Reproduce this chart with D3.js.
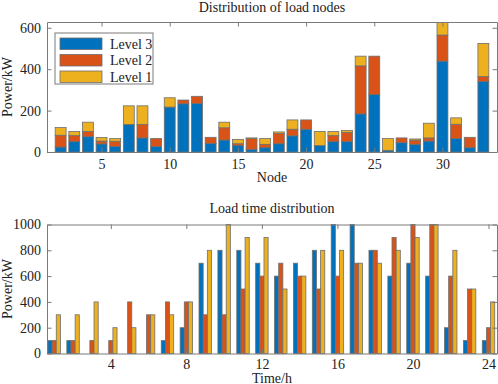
<!DOCTYPE html>
<html lang="en">
<head>
    <meta charset="UTF-8">
    <title>Load distribution</title>
    <script src="https://d3js.org/d3.v7.min.js"></script>
    <style>
        body { margin: 0; background: #fff; }
        svg { font-family: "Liberation Serif", "Times New Roman", serif; }
        .axis path, .axis line { stroke: #7a7a7a; }
        .axis text { fill: #222; font-size: 14px; font-family: "Liberation Serif", serif; }
        .lbl { fill: #222; font-size: 14px; }
    </style>
</head>
<body>
    <svg id="chart" width="498" height="384"></svg>
    <script>
        // node loads, kW (stacked: level 3 at bottom)
        var nodes = d3.range(1, 34);
        var level3 = [0, 24, 50, 74, 39, 27, 133, 68, 26, 217, 233, 235, 42, 58, 31, 13, 21,
                      40, 78, 110, 31, 50, 50, 184, 277, 8, 45, 37, 53, 439, 65, 21, 341];
        var level2 = [0, 57, 29, 25, 14, 25, 0, 65, 39, 0, 18, 34, 29, 59, 9, 52, 16,
                      49, 32, 45, 0, 29, 44, 232, 186, 0, 23, 20, 15, 126, 69, 50, 23];
        var level1 = [0, 37, 20, 45, 17, 13, 90, 90, 0, 45, 0, 0, 0, 27, 21, 3, 28,
                      8, 45, 0, 68, 20, 10, 47, 0, 57, 0, 6, 71, 80, 31, 0, 160];

        // hourly loads, kW
        var hours = d3.range(1, 25);
        var hourL3 = [100, 100, 0, 0, 0, 0, 100, 200, 700, 800, 800, 700, 600, 700, 800, 1000, 1000, 800, 600, 700, 600, 200, 100, 100];
        var hourL2 = [100, 100, 100, 100, 400, 300, 400, 400, 300, 300, 500, 600, 700, 600, 500, 600, 700, 800, 900, 1000, 1000, 600, 500, 200];
        var hourL1 = [300, 300, 400, 200, 200, 300, 300, 400, 800, 1000, 900, 900, 500, 600, 800, 800, 700, 700, 800, 900, 1000, 800, 500, 400];

        var names = ["Level 3", "Level 2", "Level 1"];
        var colors = ["#0072BD", "#D95319", "#EDB120"];
        var edge = "#6e6e6e";

        var svg = d3.select("#chart");
        var left = 47, right = 497;

        // ---------- top: stacked bars per node ----------
        var t = {top: 22, bottom: 152};
        var x1 = d3.scaleLinear().domain([1, 34]).range([left, right]);
        var y1 = d3.scaleLinear().domain([0, 628]).range([t.bottom, t.top]);

        svg.append("clipPath").attr("id", "clipTop")
            .append("rect").attr("x", left).attr("y", t.top)
            .attr("width", right - left).attr("height", t.bottom - t.top);

        var rows = nodes.map((n, i) => ({node: n, l3: level3[i], l2: level2[i], l1: level1[i]}));
        var stack = d3.stack().keys(["l3", "l2", "l1"])(rows);

        var gTop = svg.append("g").attr("clip-path", "url(#clipTop)");
        var bw1 = x1(1.8) - x1(1);
        stack.forEach((layer, k) => {
            gTop.selectAll(".s" + k)
                .data(layer.filter(d => d[1] > d[0]))
                .enter().append("rect")
                .attr("x", d => x1(d.data.node) - bw1 / 2)
                .attr("width", bw1)
                .attr("y", d => y1(d[1]))
                .attr("height", d => y1(d[0]) - y1(d[1]))
                .attr("fill", colors[k])
                .attr("stroke", edge)
                .attr("stroke-width", 0.8);
        });

        drawFrame(x1, y1, t, [5, 10, 15, 20, 25, 30], [0, 200, 400, 600], 7);

        svg.append("text").attr("class", "lbl").attr("x", (left + right) / 2).attr("y", 12)
            .attr("text-anchor", "middle").text("Distribution of load nodes");
        svg.append("text").attr("class", "lbl").attr("x", (left + right) / 2).attr("y", 182)
            .attr("text-anchor", "middle").text("Node");
        svg.append("text").attr("class", "lbl")
            .attr("transform", "translate(12," + (t.top + t.bottom) / 2 + ") rotate(-90)")
            .attr("text-anchor", "middle").text("Power/kW");

        // legend
        var lg = svg.append("g").attr("transform", "translate(55,33)");
        lg.append("rect").attr("width", 98).attr("height", 51)
            .attr("fill", "#fff").attr("stroke", "#7a7a7a");
        names.forEach((nm, i) => {
            lg.append("rect").attr("x", 5).attr("y", 5 + i * 16.5)
                .attr("width", 42).attr("height", 11.5)
                .attr("fill", colors[i]).attr("stroke", edge).attr("stroke-width", 0.8);
            lg.append("text").attr("class", "lbl").attr("x", 55).attr("y", 15.5 + i * 16.5).text(nm);
        });

        // ---------- bottom: grouped bars per hour ----------
        var b = {top: 224.5, bottom: 353.5};
        var x2 = d3.scaleLinear().domain([0.62, 24.45]).range([left, right]);
        var y2 = d3.scaleLinear().domain([0, 1000]).range([b.bottom, b.top]);
        var gw = 0.22;
        var bw2 = x2(1 + gw) - x2(1);

        [hourL3, hourL2, hourL1].forEach((vals, k) => {
            svg.append("g").selectAll("rect")
                .data(hours.map((h, i) => ({h: h, v: vals[i]})).filter(d => d.v > 0))
                .enter().append("rect")
                .attr("x", d => x2(d.h + (k - 1) * gw) - bw2 / 2)
                .attr("width", bw2)
                .attr("y", d => y2(d.v))
                .attr("height", d => y2(0) - y2(d.v))
                .attr("fill", colors[k])
                .attr("stroke", edge)
                .attr("stroke-width", 0.8);
        });

        drawFrame(x2, y2, b, [4, 8, 12, 16, 20, 24], [0, 200, 400, 600, 800, 1000], 5.5);

        svg.append("text").attr("class", "lbl").attr("x", (left + right) / 2).attr("y", 213)
            .attr("text-anchor", "middle").text("Load time distribution");
        svg.append("text").attr("class", "lbl").attr("x", (left + right) / 2).attr("y", 382.5)
            .attr("text-anchor", "middle").text("Time/h");
        svg.append("text").attr("class", "lbl")
            .attr("transform", "translate(12," + (b.top + b.bottom) / 2 + ") rotate(-90)")
            .attr("text-anchor", "middle").text("Power/kW");

        function drawFrame(x, y, box, xt, yt, pad) {
            svg.append("g").attr("class", "axis")
                .attr("transform", "translate(0," + box.bottom + ")")
                .call(d3.axisBottom(x).tickValues(xt).tickFormat(d3.format("d"))
                    .tickSizeInner(-4.5).tickSizeOuter(0).tickPadding(pad));
            svg.append("g").attr("class", "axis")
                .attr("transform", "translate(" + left + ",0)")
                .call(d3.axisLeft(y).tickValues(yt).tickFormat(d3.format("d"))
                    .tickSizeInner(-4.5).tickSizeOuter(0).tickPadding(6));
            svg.append("g").attr("class", "axis")
                .attr("transform", "translate(0," + box.top + ")")
                .call(d3.axisTop(x).tickValues(xt).tickSizeInner(-4.5).tickSizeOuter(0).tickFormat(""));
            svg.append("g").attr("class", "axis")
                .attr("transform", "translate(" + right + ",0)")
                .call(d3.axisRight(y).tickValues(yt).tickSizeInner(-4.5).tickSizeOuter(0).tickFormat(""));
        }
    </script>
</body>
</html>
